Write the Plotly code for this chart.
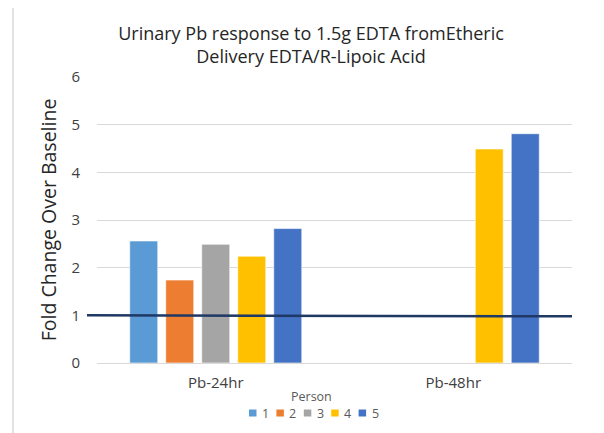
import plotly.graph_objects as go

categories = ["Pb-24hr", "Pb-48hr"]
persons = ["1", "2", "3", "4", "5"]
values = {
    "1": [2.56, None],
    "2": [1.74, None],
    "3": [2.49, None],
    "4": [2.24, 4.49],
    "5": [2.82, 4.81],
}
colors = ["#5B9BD5", "#ED7D31", "#A5A5A5", "#FFC000", "#4472C4"]
baseline = 1.0
y_ticks = [0, 1, 2, 3, 4, 5, 6]
legend_title = "Person"

FONT = "Open Sans"
OFF = 8  # page body margin of the browser
W, H = 604 - OFF, 433 - OFF
ML, MT = 97 - OFF, 77 - OFF
PW, PH = 475, 286
MR = W - ML - PW
MB = H - MT - PH


def px_x(px):
    """screen x (reference pixels) -> paper x"""
    return (px - OFF - ML) / PW


def px_y(py):
    """screen y (reference pixels) -> paper y"""
    return (MT + PH - (py - OFF)) / PH


fig = go.Figure()
for p, c in zip(persons, colors):
    fig.add_trace(go.Bar(
        x=categories, y=values[p], name=p,
        marker=dict(color=c, line=dict(color="rgba(255,255,255,0.6)", width=1)),
    ))

shapes = [
    dict(type="rect", xref="paper", yref="paper",
         x0=px_x(13), x1=px_x(599), y0=px_y(445), y1=px_y(7),
         line=dict(color="#D9D9D9", width=1.5), fillcolor="rgba(0,0,0,0)", layer="below"),
    dict(type="line", xref="paper", yref="y",
         x0=px_x(87), x1=1.0, y0=baseline, y1=baseline - 0.02,
         line=dict(color="#1F3864", width=2.5)),
]
annotations = [
    dict(text=legend_title, xref="paper", yref="paper", x=px_x(311), y=px_y(396),
         xanchor="center", yanchor="middle", showarrow=False,
         font=dict(family=FONT, size=12.5, color="#595959")),
]
# compact legend (Excel style): small square + label
leg_x0, leg_step, leg_y = 249, 27.4, 413
for i, (p, c) in enumerate(zip(persons, colors)):
    sx = leg_x0 + i * leg_step
    shapes.append(dict(type="rect", xref="paper", yref="paper",
                       x0=px_x(sx), x1=px_x(sx + 7.5), y0=px_y(leg_y + 3.5), y1=px_y(leg_y - 3.5),
                       line=dict(width=0), fillcolor=c))
    annotations.append(dict(text=p, xref="paper", yref="paper", x=px_x(sx + 11), y=px_y(leg_y),
                            xanchor="left", yanchor="middle", showarrow=False,
                            font=dict(family=FONT, size=12.5, color="#595959")))

fig.update_layout(
    width=W, height=H,
    margin=dict(l=ML, r=MR, t=MT, b=MB, autoexpand=False),
    paper_bgcolor="white", plot_bgcolor="white",
    barmode="group", bargap=0.242, bargroupgap=0.222,
    showlegend=False,
    font=dict(family=FONT, color="#404040"),
    title=dict(
        text="Urinary Pb response to 1.5g EDTA fromEtheric<br>Delivery EDTA/R-Lipoic Acid",
        x=px_x(311), xref="paper", xanchor="center",
        y=1 - 32 / H, yref="container", yanchor="middle",
        font=dict(family=FONT, size=18, color="#262626"),
    ),
    xaxis=dict(
        showgrid=False, showline=False, zeroline=False, automargin=False,
        tickfont=dict(size=15, color="#404040"),
        ticklabelstandoff=9,
    ),
    yaxis=dict(
        range=[0, 6], tickvals=y_ticks, automargin=False,
        showgrid=True, gridcolor="#D9D9D9", gridwidth=1,
        zeroline=True, zerolinecolor="#D9D9D9", zerolinewidth=1,
        showline=False,
        ticks="outside", ticklen=13, tickcolor="rgba(0,0,0,0)",
        tickfont=dict(size=15, color="#404040"),
        title=dict(text="Fold Change Over Baseline", font=dict(size=19.5, color="#262626"), standoff=9),
    ),
    shapes=shapes,
    annotations=annotations,
)

fig.write_html("out.html")
